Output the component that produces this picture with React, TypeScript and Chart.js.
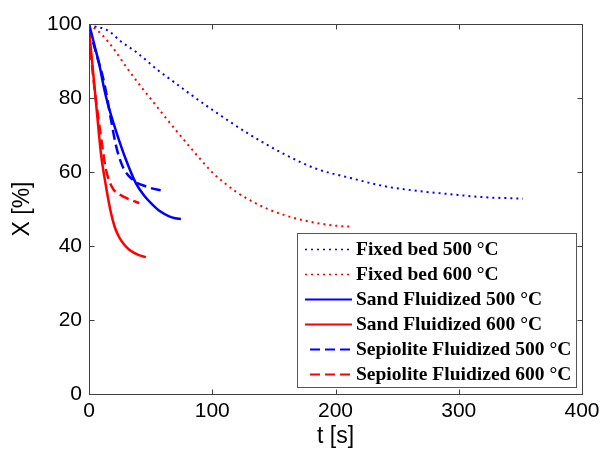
import React, { useEffect, useRef } from "react";
import { Chart, registerables } from "chart.js";

Chart.register(...registerables);

// ---- data (t in s, X in %) ----
const fixed500T = [0, 4, 14, 27, 38, 56, 69, 84, 104, 131, 158, 185, 212, 239, 266, 293, 320, 352];
const fixed500X = [100, 99.4, 98.5, 95, 92.5, 87.5, 84.3, 80.6, 75.9, 70, 64.9, 60.8, 58.4, 56.2, 54.9, 54, 53.2, 52.8];

const fixed600T = [0, 10, 20, 30, 40, 50, 60, 70, 80, 90, 100, 110, 120, 131, 145, 158, 172, 185, 200, 213];
const fixed600X = [100, 97.3, 93.3, 88.5, 84, 79.8, 75.6, 71.5, 67.5, 63.6, 59.9, 57, 54.5, 52.3, 50, 48.4, 47.1, 46.2, 45.5, 45.2];

const sand500T = [0, 2, 5, 8.4, 12, 15.2, 22, 30, 38, 45, 51.5, 58, 65, 70, 74.6];
const sand500X = [100, 97.5, 93.5, 89, 83, 78.5, 71, 63.3, 57, 53.5, 51.2, 49.3, 48, 47.5, 47.3];

const sand600T = [0, 5.7, 9.7, 13.8, 17.8, 21, 24.6, 28.5, 32.7, 40, 46.2];
const sand600X = [98.6, 78.7, 65, 56.1, 49, 45, 42.3, 40.4, 39, 37.6, 37];

const sep500T = [0, 5.7, 12.4, 17.8, 22, 27.3, 35.5, 46.2, 61];
const sep500X = [99, 92.2, 84, 74.2, 67, 61.5, 57.9, 56.1, 54.8];

const sep600T = [0, 4, 9.7, 13.8, 19.3, 25, 30, 35, 40.8];
const sep600X = [97, 84, 69.6, 60.6, 55.6, 53.9, 53, 52.3, 51.6];

const seriesLabels = [
  "Fixed bed 500 °C",
  "Fixed bed 600 °C",
  "Sand Fluidized 500 °C",
  "Sand Fluidized 600 °C",
  "Sepiolite Fluidized 500 °C",
  "Sepiolite Fluidized 600 °C",
];

const xTicks = [0, 100, 200, 300, 400];
const yTicks = [0, 20, 40, 60, 80, 100];

const BLUE = "#0000ff";
const RED = "#ff0000";
const DOT = [2, 4];
const DASH = [10, 5];

const toPts = (t: number[], x: number[]) => t.map((v, i) => ({ x: v, y: x[i] }));

const framePlugin = {
  id: "frameAndLegend",
  afterDatasetsDraw(chart: any) {
    const { ctx, chartArea: a, scales } = chart;
    ctx.save();
    ctx.strokeStyle = "#404040";
    ctx.lineWidth = 1;
    ctx.setLineDash([]);
    const L = Math.round(a.left) + 0.5;
    const R = Math.round(a.right) + 0.5;
    const T = Math.round(a.top) + 0.5;
    const B = Math.round(a.bottom) + 0.5;
    ctx.strokeRect(L, T, R - L, B - T);
    const tl = 5;
    ctx.beginPath();
    xTicks.forEach((v) => {
      const px = Math.round(scales.x.getPixelForValue(v)) + 0.5;
      ctx.moveTo(px, B);
      ctx.lineTo(px, B - tl);
      ctx.moveTo(px, T);
      ctx.lineTo(px, T + tl);
    });
    yTicks.forEach((v) => {
      const py = Math.round(scales.y.getPixelForValue(v)) + 0.5;
      ctx.moveTo(L, py);
      ctx.lineTo(L + tl, py);
      ctx.moveTo(R, py);
      ctx.lineTo(R - tl, py);
    });
    ctx.stroke();

    // legend box
    const bx = 297.5, by = 233.5, bw = 279, bh = 154;
    ctx.fillStyle = "#ffffff";
    ctx.fillRect(bx, by, bw, bh);
    ctx.strokeStyle = "#555555";
    ctx.strokeRect(bx, by, bw, bh);
    const ds = chart.data.datasets;
    ds.forEach((d: any, i: number) => {
      const cy = by + 15 + i * 25;
      ctx.strokeStyle = d.borderColor;
      const dash = d.borderDash || [];
      ctx.setLineDash(dash);
      ctx.lineWidth = dash.length === 2 && dash[0] === 2 ? 1.5 : 2;
      const x0 = dash.length && dash[0] > 5 ? 310 : 305;
      ctx.beginPath();
      ctx.moveTo(x0, Math.round(cy) + 0.5);
      ctx.lineTo(352, Math.round(cy) + 0.5);
      ctx.stroke();
      ctx.setLineDash([]);
      ctx.fillStyle = "#000";
      ctx.font = "bold 19.5px 'Liberation Serif', 'Times New Roman', serif";
      ctx.textBaseline = "middle";
      ctx.textAlign = "left";
      ctx.fillText(d.label, 356, cy + 1);
    });
    ctx.restore();
  },
};

export default function App() {
  const ref = useRef<HTMLCanvasElement | null>(null);
  useEffect(() => {
    if (!ref.current) return;
    const mk = (i: number, t: number[], x: number[], color: string, dash: number[], w: number) => ({
      label: seriesLabels[i],
      data: toPts(t, x),
      borderColor: color,
      backgroundColor: color,
      borderDash: dash,
      borderWidth: w,
      pointRadius: 0,
      fill: false,
      cubicInterpolationMode: "monotone" as const,
    });
    const chart = new Chart(ref.current, {
      type: "line",
      data: {
        datasets: [
          mk(0, fixed500T, fixed500X, BLUE, DOT, 2),
          mk(1, fixed600T, fixed600X, RED, DOT, 2),
          mk(2, sand500T, sand500X, BLUE, [], 2.5),
          mk(3, sand600T, sand600X, RED, [], 2.5),
          mk(4, sep500T, sep500X, BLUE, DASH, 2.5),
          mk(5, sep600T, sep600X, RED, DASH, 2.5),
        ],
      },
      options: {
        responsive: false,
        animation: false,
        devicePixelRatio: 1,
        layout: { padding: { top: 24, right: 23, left: 0, bottom: 0 } },
        plugins: { legend: { display: false }, tooltip: { enabled: false } },
        scales: {
          x: {
            type: "linear",
            min: 0,
            max: 400,
            afterFit: (s: any) => { s.height = 56; },
            grid: { display: false, drawTicks: false },
            border: { display: false },
            ticks: {
              stepSize: 100,
              padding: 5,
              color: "#000",
              font: { family: "'Liberation Sans', Arial, sans-serif", size: 21 },
              maxRotation: 0,
            },
            title: {
              display: true,
              text: "t [s]",
              color: "#000",
              font: { family: "'Liberation Sans', Arial, sans-serif", size: 23 },
              padding: { top: 0, bottom: 0 },
            },
          },
          y: {
            type: "linear",
            min: 0,
            max: 100,
            afterFit: (s: any) => { s.width = 89; },
            grid: { display: false, drawTicks: false },
            border: { display: false },
            ticks: {
              stepSize: 20,
              padding: 7,
              color: "#000",
              font: { family: "'Liberation Sans', Arial, sans-serif", size: 21 },
            },
            title: {
              display: true,
              text: "X [%]",
              color: "#000",
              font: { family: "'Liberation Sans', Arial, sans-serif", size: 23 },
              padding: { top: 9, bottom: 0 },
            },
          },
        },
      },
      plugins: [framePlugin],
    });
    return () => chart.destroy();
  }, []);
  return (
    <div style={{ position: "absolute", left: 0, top: 0, width: 605, height: 450, background: "#fff" }}>
      <canvas ref={ref} width={605} height={450} style={{ width: 605, height: 450, display: "block" }} />
    </div>
  );
}
